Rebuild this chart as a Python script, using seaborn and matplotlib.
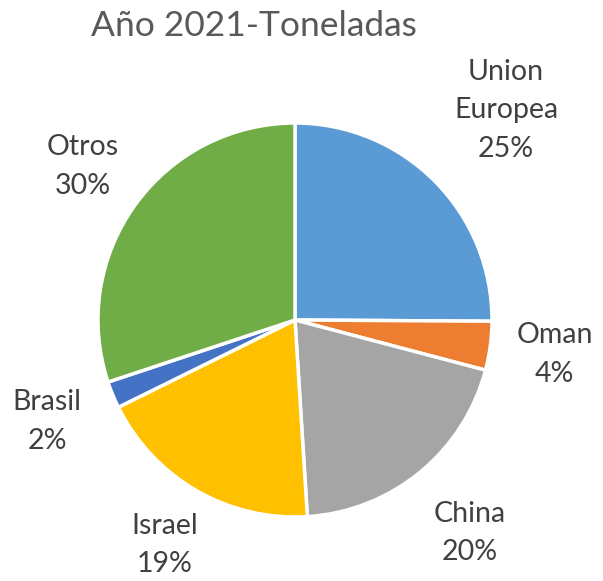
import numpy as np
import matplotlib.pyplot as plt
import seaborn as sns

# Datos (porcentaje de toneladas, año 2021)
paises = ["Union\nEuropea", "Oman", "China", "Israel", "Brasil", "Otros"]
valores = [25.1, 4.0, 19.9, 18.7, 2.2, 30.1]
colores = ["#5B9BD5", "#ED7D31", "#A5A5A5", "#FFC000", "#4472C4", "#70AD47"]
distancias = [1.51, 1.33, 1.40, 1.32, 1.36, 1.33]

sns.set_theme(style="white")
plt.rcParams["font.family"] = ["Lato", "DejaVu Sans"]

fig = plt.figure(figsize=(6.03, 5.81), dpi=100)
W, H = 603, 581
cx, cy, r = 295, 320, 197
ax = fig.add_axes([(cx - r) / W, (H - cy - r) / H, 2 * r / W, 2 * r / H])

wedges, _ = ax.pie(valores, colors=colores, startangle=90, counterclock=False,
                   wedgeprops=dict(edgecolor="white", linewidth=2.5))
ax.set_xlim(-1, 1)
ax.set_ylim(-1, 1)
ax.set_aspect("equal")
ax.axis("off")

total = sum(valores)
for w, nombre, v, d in zip(wedges, paises, valores, distancias):
    ang = np.deg2rad((w.theta1 + w.theta2) / 2)
    ax.text(d * np.cos(ang), d * np.sin(ang), f"{nombre}\n{v / total * 100:.0f}%",
            ha="center", va="center", fontsize=20.5, color="#404040",
            linespacing=1.6, clip_on=False)

fig.text(254 / W, 1 - 26 / H, "Año 2021-Toneladas", ha="center", va="center",
         fontsize=25.5, color="#595959")

fig.savefig("out.png", dpi=100)
